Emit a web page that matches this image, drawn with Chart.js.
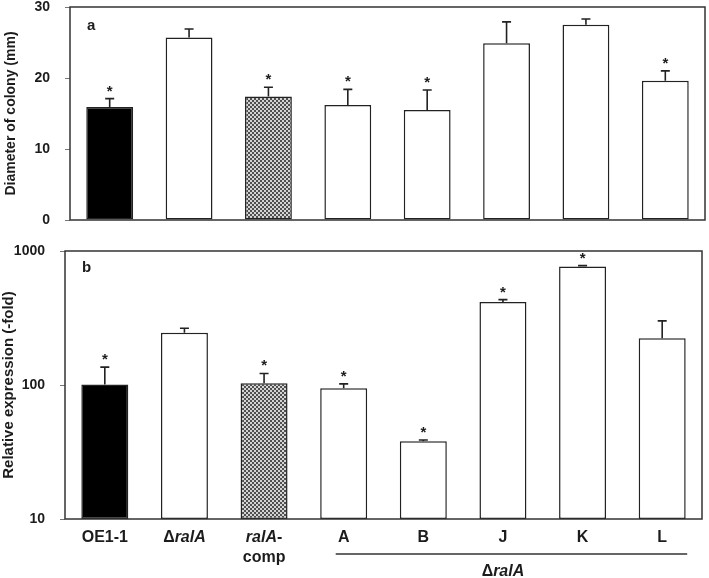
<!DOCTYPE html>
<html>
<head>
<meta charset="utf-8">
<script src="https://cdn.jsdelivr.net/npm/chart.js@4"></script>
<style>
body { margin: 0; background: #fff; }
canvas { position: absolute; left: 0; }
</style>
</head>
<body>
<canvas id="colony-chart" width="709" height="230" style="top:0"></canvas>
<canvas id="expr-chart" width="709" height="348" style="top:230px"></canvas>
<script>
// strains on the x axis
const strains = ['OE1-1', 'ΔralA', 'ralA-comp', 'A', 'B', 'J', 'K', 'L'];
const groupLabel = 'ΔralA'; // A..L are all ΔralA backgrounds

// panel a: colony diameter (mm)
const colonyMean = [15.9, 25.7, 17.4, 16.2, 15.5, 24.9, 27.5, 19.6];
const colonyErr = [1.2, 1.2, 1.3, 2.2, 2.8, 3.0, 0.8, 1.4];
const colonySig = [true, false, true, true, true, false, false, true];
const colonyTicks = [0, 10, 20, 30];

// panel b: relative expression (-fold), log scale
const exprMean = [101, 245, 103, 94.5, 38.1, 417, 765, 223];
const exprErr = [35, 20, 19, 7.5, 0.8, 17, 13, 78];
const exprSig = [true, false, true, true, true, true, true, false];
const exprTicks = [10, 100, 1000];

const FONT = "'Liberation Sans', Arial, sans-serif";
const INK = '#1c1c1c';

// checkered grey fill for the complemented strain
function makePattern() {
    const c = document.createElement('canvas');
    c.width = 4; c.height = 4;
    const g = c.getContext('2d');
    g.fillStyle = '#d4d4d4';
    g.fillRect(0, 0, 4, 4);
    g.fillStyle = '#505050';
    g.fillRect(0, 0, 2, 2);
    g.fillRect(2, 2, 2, 2);
    return g.createPattern(c, 'repeat');
}
const checker = makePattern();
const barFill = ['#000', '#fff', checker, '#fff', '#fff', '#fff', '#fff', '#fff'];

// error bars, asterisks, frame and panel letter
function extrasPlugin(means, errs, sig, letter, letterY) {
    return {
        id: 'extras',
        afterDatasetsDraw(chart) {
            const ctx = chart.ctx;
            const y = chart.scales.y;
            const meta = chart.getDatasetMeta(0);
            ctx.save();
            ctx.strokeStyle = '#222';
            ctx.lineWidth = 1.6;
            ctx.fillStyle = INK;
            ctx.font = 'bold 15px ' + FONT;
            ctx.textAlign = 'center';
            ctx.textBaseline = 'alphabetic';
            meta.data.forEach((bar, i) => {
                const top = y.getPixelForValue(means[i] + errs[i]);
                ctx.beginPath();
                ctx.moveTo(bar.x, bar.y);
                ctx.lineTo(bar.x, top);
                ctx.moveTo(bar.x - 4.5, top);
                ctx.lineTo(bar.x + 4.5, top);
                ctx.stroke();
                if (sig[i]) ctx.fillText('*', bar.x, top - 3);
            });
            const a = chart.chartArea;
            ctx.lineWidth = 1.5;
            ctx.strokeStyle = '#333';
            ctx.strokeRect(a.left, a.top, a.right - a.left, a.bottom - a.top);
            ctx.textAlign = 'left';
            ctx.textBaseline = 'middle';
            ctx.font = 'bold 15px ' + FONT;
            ctx.fillText(letter, a.left + 17, letterY);
            ctx.restore();
        }
    };
}

// text where "ralA" is set in italics
function drawRich(ctx, text, cx, cy) {
    const parts = text.split(/(ralA)/).filter(s => s.length);
    const fontOf = s => (s === 'ralA' ? 'italic bold 16px ' : 'bold 16px ') + FONT;
    let w = 0;
    parts.forEach(s => { ctx.font = fontOf(s); w += ctx.measureText(s).width; });
    let x = cx - w / 2;
    parts.forEach(s => {
        ctx.font = fontOf(s);
        ctx.fillText(s, x, cy);
        x += ctx.measureText(s).width;
    });
}

const xLabelsPlugin = {
    id: 'xlabels',
    afterDraw(chart) {
        const ctx = chart.ctx;
        const x = chart.scales.x;
        const base = chart.chartArea.bottom;
        ctx.save();
        ctx.fillStyle = INK;
        ctx.textAlign = 'left';
        ctx.textBaseline = 'middle';
        strains.forEach((s, i) => {
            const cx = x.getPixelForValue(i);
            const lines = s.indexOf('-comp') > 0 ? [s.slice(0, s.indexOf('-') + 1), s.slice(s.indexOf('-') + 1)] : [s];
            lines.forEach((ln, k) => drawRich(ctx, ln, cx, base + 19 + k * 20));
        });
        // bracket under the ΔralA-derived lines
        const x0 = x.getPixelForValue(3) - 8;
        const x1 = x.getPixelForValue(7) + 25;
        ctx.strokeStyle = '#333';
        ctx.lineWidth = 1.3;
        ctx.beginPath();
        ctx.moveTo(x0, base + 35);
        ctx.lineTo(x1, base + 35);
        ctx.stroke();
        drawRich(ctx, groupLabel, (x.getPixelForValue(3) + x.getPixelForValue(7)) / 2, base + 53);
        ctx.restore();
    }
};

function baseOptions(yWidth, pad, titlePad, titleSize) {
    return {
        responsive: false,
        animation: false,
        layout: { padding: pad },
        plugins: { legend: { display: false }, tooltip: { enabled: false } },
        scales: {
            x: { display: false, offset: true },
            y: {
                afterFit(scale) {
                    scale.width = yWidth;
                    scale.paddingTop = 0;
                    scale.paddingBottom = 0;
                },
                border: { display: false },
                grid: { drawOnChartArea: false, tickLength: 5, color: '#777', lineWidth: 1 },
                ticks: { color: INK, padding: 15, font: { family: FONT, size: 14, weight: 'bold' } },
                title: { display: true, color: INK, padding: { top: titlePad, bottom: 0 }, font: { family: FONT, size: titleSize, weight: 'bold' } }
            }
        }
    };
}

const barStyle = {
    backgroundColor: barFill,
    borderColor: '#222',
    borderWidth: 1.5,
    borderSkipped: false,
    categoryPercentage: 1,
    barPercentage: 0.59
};

// panel a
const optA = baseOptions(70, { top: 7, right: 4, bottom: 10, left: 0 }, 3, 14);
optA.scales.y.min = 0;
optA.scales.y.max = 30;
optA.scales.y.afterBuildTicks = s => { s.ticks = colonyTicks.map(v => ({ value: v })); };
optA.scales.y.title.text = 'Diameter of colony (mm)';
new Chart(document.getElementById('colony-chart').getContext('2d'), {
    type: 'bar',
    data: { labels: strains, datasets: [Object.assign({ data: colonyMean }, barStyle)] },
    options: optA,
    plugins: [extrasPlugin(colonyMean, colonyErr, colonySig, 'a', 26)]
});

// panel b
const optB = baseOptions(65, { top: 21, right: 7, bottom: 59, left: 0 }, 0, 15);
optB.scales.y.type = 'logarithmic';
optB.scales.y.min = 10;
optB.scales.y.max = 1000;
optB.scales.y.afterBuildTicks = s => { s.ticks = exprTicks.map(v => ({ value: v })); };
optB.scales.y.ticks.callback = v => String(v);
optB.scales.y.title.text = 'Relative expression (-fold)';
new Chart(document.getElementById('expr-chart').getContext('2d'), {
    type: 'bar',
    data: { labels: strains, datasets: [Object.assign({ data: exprMean }, barStyle)] },
    options: optB,
    plugins: [extrasPlugin(exprMean, exprErr, exprSig, 'b', 38), xLabelsPlugin]
});
</script>
</body>
</html>
